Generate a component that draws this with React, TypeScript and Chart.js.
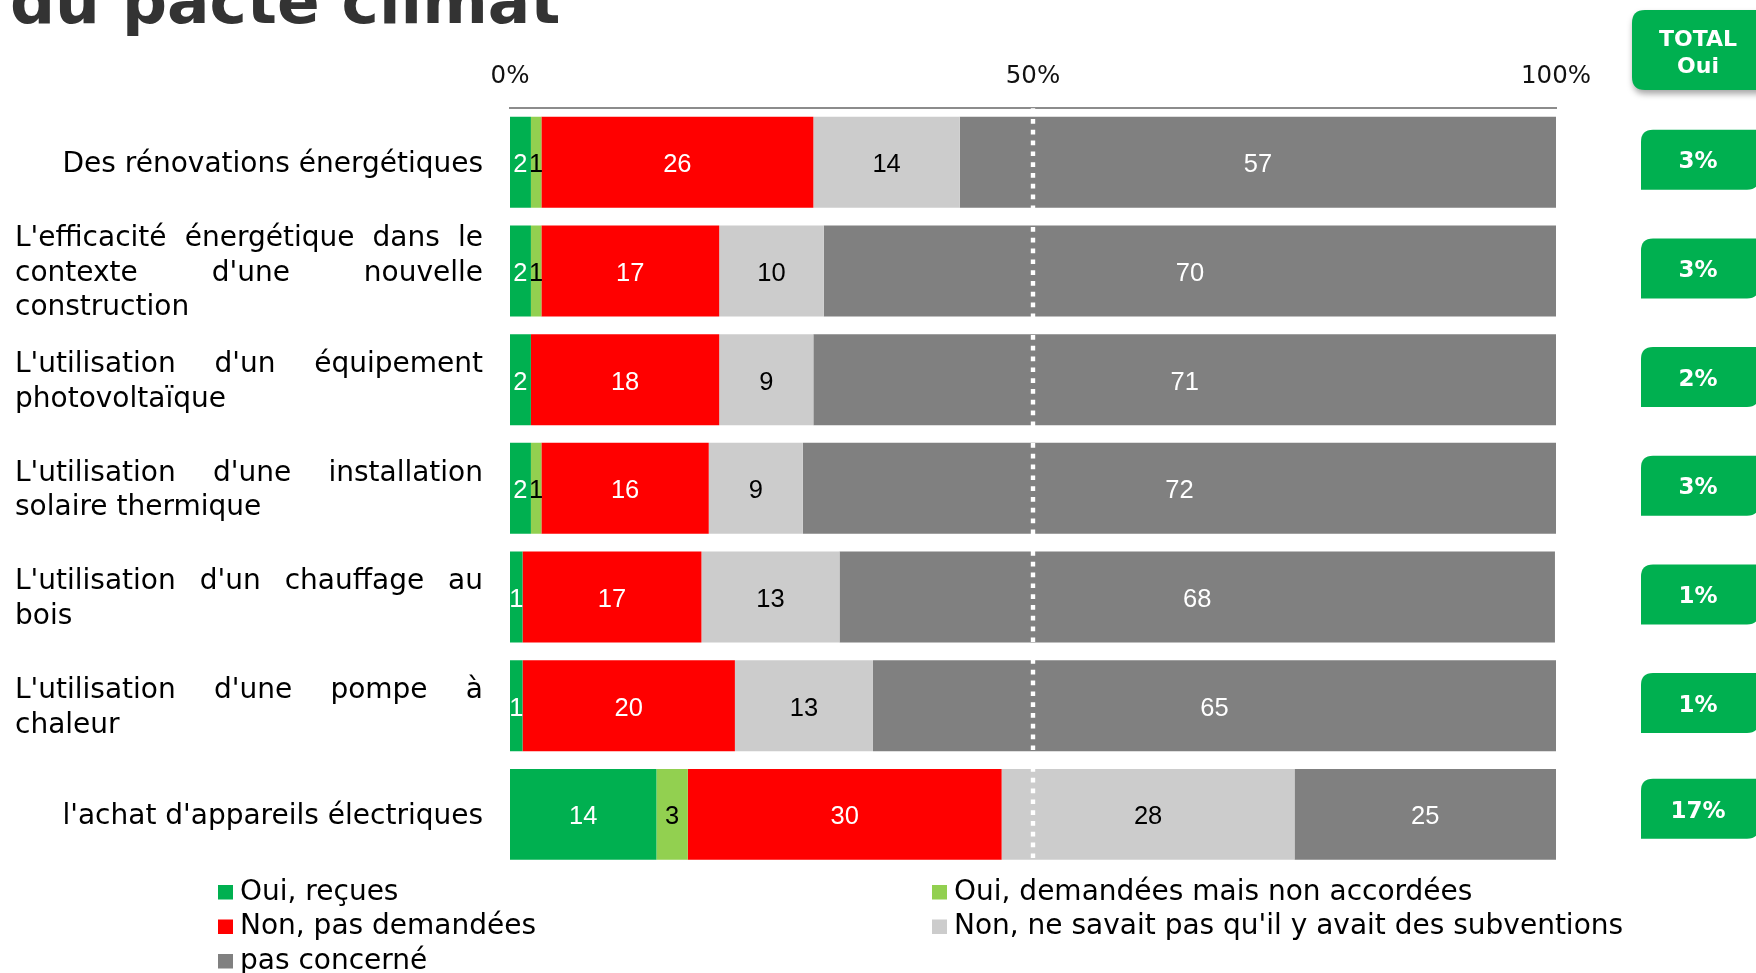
import React, { useEffect, useRef } from "react";
import { Chart, registerables } from "chart.js";

Chart.register(...registerables);

// ---- Data ----
const categories: string[][] = [
  ["Des rénovations énergétiques"],
  ["L'efficacité énergétique dans le", "contexte d'une nouvelle", "construction"],
  ["L'utilisation d'un équipement", "photovoltaïque"],
  ["L'utilisation d'une installation", "solaire thermique"],
  ["L'utilisation d'un chauffage au", "bois"],
  ["L'utilisation d'une pompe à", "chaleur"],
  ["l'achat d'appareils électriques"],
];

const seriesLabels = [
  "Oui, reçues",
  "Oui, demandées mais non accordées",
  "Non, pas demandées",
  "Non, ne savait pas qu'il y avait des subventions",
  "pas concerné",
];

const ouiRecues = [2, 2, 2, 2, 1.2, 1.2, 14];
const ouiDemandees = [1, 1, 0, 1, 0, 0, 3];
const nonPasDemandees = [26, 17, 18, 16, 17.1, 20.3, 30];
const nonSavaitPas = [14, 10, 9, 9, 13.2, 13.2, 28];
const pasConcerne = [57, 70, 71, 72, 68.4, 65.3, 25];

const totalOui = ["3%", "3%", "2%", "3%", "1%", "1%", "17%"];
const totalHeader = ["TOTAL", "Oui"];
const titleText = "du pacte climat";
const xTickValues = [0, 50, 100];

const seriesColors = ["#00b050", "#92d050", "#ff0000", "#cccccc", "#808080"];
const seriesTextColors = ["#ffffff", "#000000", "#ffffff", "#000000", "#ffffff"];

const FONT = "'DejaVu Sans', Verdana, sans-serif";
const NUM_FONT = "'Liberation Sans', Arial, sans-serif";

function roundRectPath(
  ctx: CanvasRenderingContext2D,
  x: number,
  y: number,
  w: number,
  h: number,
  r: { tl: number; tr: number; br: number; bl: number }
) {
  ctx.beginPath();
  ctx.moveTo(x + r.tl, y);
  ctx.lineTo(x + w - r.tr, y);
  if (r.tr) ctx.quadraticCurveTo(x + w, y, x + w, y + r.tr);
  ctx.lineTo(x + w, y + h - r.br);
  if (r.br) ctx.quadraticCurveTo(x + w, y + h, x + w - r.br, y + h);
  ctx.lineTo(x + r.bl, y + h);
  if (r.bl) ctx.quadraticCurveTo(x, y + h, x, y + h - r.bl);
  ctx.lineTo(x, y + r.tl);
  if (r.tl) ctx.quadraticCurveTo(x, y, x + r.tl, y);
  ctx.closePath();
}

const overlayPlugin = {
  id: "overlay",
  afterDatasetsDraw(chart: any) {
    const ctx: CanvasRenderingContext2D = chart.ctx;
    const xs = chart.scales.x;
    const area = chart.chartArea;

    // 50% dotted line
    const x50 = xs.getPixelForValue(50);
    ctx.save();
    ctx.strokeStyle = "#ffffff";
    ctx.lineWidth = 4.4;
    ctx.setLineDash([4.7, 6.1]);
    ctx.beginPath();
    ctx.moveTo(x50, area.top + 0.2);
    ctx.lineTo(x50, area.bottom - 8);
    ctx.stroke();
    ctx.restore();

    // data labels
    ctx.save();
    ctx.font = `25.5px ${NUM_FONT}`;
    ctx.textAlign = "center";
    ctx.textBaseline = "alphabetic";
    chart.data.datasets.forEach((ds: any, di: number) => {
      const meta = chart.getDatasetMeta(di);
      meta.data.forEach((el: any, i: number) => {
        const v = ds.data[i] as number;
        if (!v || v < 0.5) return;
        const p = el.getProps(["x", "base", "y"], true);
        ctx.fillStyle = seriesTextColors[di];
        ctx.fillText(String(Math.round(v)), (p.x + p.base) / 2, p.y + 10);
      });
    });
    ctx.restore();
  },
  afterDraw(chart: any) {
    const ctx: CanvasRenderingContext2D = chart.ctx;
    const ys = chart.scales.y;

    // Title (cut at top)
    ctx.save();
    ctx.fillStyle = "#333333";
    ctx.font = `bold 63px ${FONT}`;
    ctx.textAlign = "left";
    ctx.textBaseline = "alphabetic";
    ctx.fillText(titleText, 10, 23);
    ctx.restore();

    // Category labels (justified)
    ctx.save();
    ctx.font = `28px ${FONT}`;
    ctx.fillStyle = "#000000";
    ctx.textBaseline = "alphabetic";
    const left = 15;
    const right = 483;
    const lh = 34.5;
    categories.forEach((lines, i) => {
      const cy = ys.getPixelForValue(i);
      const y0 = cy - ((lines.length - 1) * lh) / 2 + 9.7;
      lines.forEach((line, li) => {
        const y = y0 + li * lh;
        if (lines.length === 1) {
          ctx.textAlign = "right";
          ctx.fillText(line, right, y);
        } else if (li === lines.length - 1) {
          ctx.textAlign = "left";
          ctx.fillText(line, left, y);
        } else {
          ctx.textAlign = "left";
          const words = line.split(" ");
          const widths = words.map((w) => ctx.measureText(w).width);
          const total = widths.reduce((a, b) => a + b, 0);
          const gap = (right - left - total) / (words.length - 1);
          let x = left;
          words.forEach((w, wi) => {
            ctx.fillText(w, x, y);
            x += widths[wi] + gap;
          });
        }
      });
    });
    ctx.restore();

    // TOTAL Oui header badge
    ctx.save();
    ctx.shadowColor = "rgba(0,0,0,0.35)";
    ctx.shadowBlur = 6;
    ctx.shadowOffsetX = 1;
    ctx.shadowOffsetY = 4;
    ctx.fillStyle = "#00b050";
    roundRectPath(ctx, 1632, 10, 140, 80, { tl: 13, tr: 13, br: 13, bl: 13 });
    ctx.fill();
    ctx.restore();
    ctx.save();
    ctx.fillStyle = "#ffffff";
    ctx.font = `bold 22px ${FONT}`;
    ctx.textAlign = "center";
    ctx.textBaseline = "alphabetic";
    ctx.fillText(totalHeader[0], 1698, 46);
    ctx.fillText(totalHeader[1], 1698, 73);
    ctx.restore();

    // value badges
    totalOui.forEach((t, i) => {
      const cy = ys.getPixelForValue(i) - (i === totalOui.length - 1 ? 5.5 : 2.6);
      ctx.save();
      ctx.fillStyle = "#00b050";
      roundRectPath(ctx, 1641, cy - 30, 118, 60, { tl: 12, tr: 0, br: 12, bl: 0 });
      ctx.fill();
      ctx.fillStyle = "#ffffff";
      ctx.font = `bold 23px ${FONT}`;
      ctx.textAlign = "center";
      ctx.textBaseline = "alphabetic";
      ctx.fillText(t, 1698, cy + 8.7);
      ctx.restore();
    });

    // Legend (two columns)
    ctx.save();
    ctx.font = `28px ${FONT}`;
    ctx.textAlign = "left";
    ctx.textBaseline = "alphabetic";
    const colX = [218, 932];
    const rowBase = [899.5, 934, 968.5];
    chart.data.datasets.forEach((ds: any, di: number) => {
      const bx = colX[di % 2];
      const by = rowBase[Math.floor(di / 2)];
      ctx.fillStyle = ds.backgroundColor;
      ctx.fillRect(bx, by - 14.5, 15, 14.5);
      ctx.fillStyle = "#000000";
      ctx.fillText(ds.label, bx + 22, by);
    });
    ctx.restore();
  },
};

export default function App() {
  const canvasRef = useRef<HTMLCanvasElement | null>(null);

  useEffect(() => {
    document.body.style.margin = "0";
    document.body.style.overflow = "hidden";
    const canvas = canvasRef.current;
    if (!canvas) return;
    const seriesData = [ouiRecues, ouiDemandees, nonPasDemandees, nonSavaitPas, pasConcerne];
    const chart = new Chart(canvas, {
      type: "bar",
      data: {
        labels: categories,
        datasets: seriesLabels.map((label, i) => ({
          label,
          data: seriesData[i],
          backgroundColor: seriesColors[i],
          borderWidth: 0,
          barPercentage: 0.837,
          categoryPercentage: 1,
        })),
      },
      options: {
        indexAxis: "y",
        responsive: false,
        animation: false,
        devicePixelRatio: 1,
        layout: { padding: { left: 510, right: 200, top: 0, bottom: 104.3 } },
        plugins: {
          legend: { display: false },
          tooltip: { enabled: false },
          title: { display: false },
        },
        scales: {
          x: {
            position: "top",
            stacked: true,
            min: 0,
            max: 100,
            afterBuildTicks: (scale: any) => {
              scale.ticks = xTickValues.map((v) => ({ value: v }));
            },
            afterFit: (scale: any) => {
              scale.height = 108;
              scale.paddingLeft = 0;
              scale.paddingRight = 0;
            },
            grid: { display: false, drawTicks: false },
            border: { display: true, color: "#8c8c8c", width: 2 },
            ticks: {
              padding: 17,
              maxRotation: 0,
              autoSkip: false,
              color: "#111111",
              font: { family: FONT, size: 24.5 },
              callback: (v: any) => `${v}%`,
            },
          },
          y: {
            stacked: true,
            display: false,
          },
        },
      },
      plugins: [overlayPlugin],
    });
    return () => chart.destroy();
  }, []);

  return (
    <div style={{ position: "absolute", left: 0, top: 0, width: 1756, height: 973, background: "#ffffff" }}>
      <canvas ref={canvasRef} width={1756} height={973} style={{ width: 1756, height: 973, display: "block" }} />
    </div>
  );
}
